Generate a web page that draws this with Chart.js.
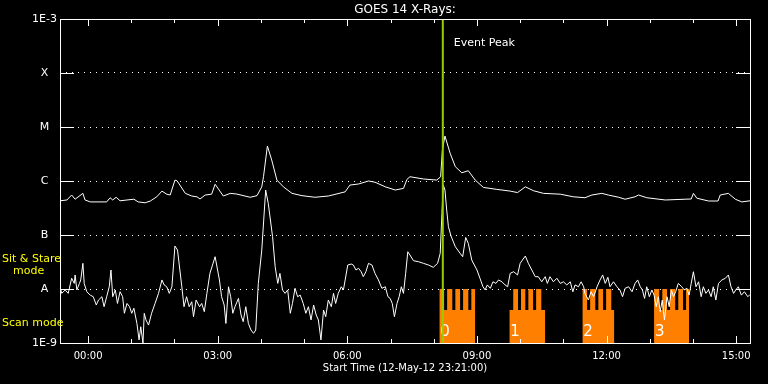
<!DOCTYPE html>
<html><head><meta charset="utf-8">
<script src="https://cdn.jsdelivr.net/npm/chart.js@4/dist/chart.umd.min.js"></script>
<style>html,body{margin:0;padding:0;background:#000;overflow:hidden}canvas{display:block}</style>
</head><body>
<canvas id="c" width="768" height="384"></canvas>
<script>
// ---- text ----
const chartTitle = 'GOES 14 X-Rays:';
const xAxisTitle = 'Start Time (12-May-12 23:21:00)';
const eventLabel = 'Event Peak';
const modeLabels = ['Sit & Stare', 'mode', 'Scan mode'];

// ---- axes (hours relative to 13-May 00:00 UT) ----
const xMin = -0.65, xMax = 15.32;
const xTickHours = [0, 3, 6, 9, 12, 15];
const xTickLabels = ['00:00', '03:00', '06:00', '09:00', '12:00', '15:00'];
const yTickValues = [1e-9, 1e-8, 1e-7, 1e-6, 1e-5, 1e-4, 1e-3];
const yTickLabels = ['1E-9', 'A', 'B', 'C', 'M', 'X', '1E-3'];

// ---- long channel (upper curve) ----
const upperTimes = [
 -0.65,-0.49,-0.38,-0.30,-0.12,-0.07,0.05,0.43,0.51,0.57,
 0.65,0.74,0.90,1.06,1.16,1.32,1.44,1.59,1.71,1.82,
 1.90,2.01,2.06,2.25,2.40,2.52,2.59,2.71,2.86,2.94,
 3.13,3.29,3.44,3.75,3.91,4.02,4.06,4.15,4.25,4.37,
 4.52,4.72,4.95,5.25,5.56,5.95,6.06,6.26,6.49,6.64,
 6.88,7.11,7.30,7.38,7.45,7.76,8.07,8.16,8.20,8.26,
 8.38,8.50,8.65,8.80,8.96,9.15,9.46,9.77,9.94,10.12,
 10.31,10.54,10.93,11.23,11.50,11.66,11.89,12.04,12.28,12.43,
 12.66,12.74,12.93,13.36,13.82,13.96,14.01,14.09,14.36,14.58,
 14.63,14.82,14.98,15.13,15.32];
const upperFlux = [
 4.3e-7,4.45e-7,5.5e-7,4.6e-7,5.9e-7,4.45e-7,4.1e-7,4.1e-7,4.9e-7,4.45e-7,
 5.0e-7,4.3e-7,4.45e-7,4.6e-7,4.1e-7,3.95e-7,4.26e-7,5.1e-7,6.5e-7,5.7e-7,
 5.5e-7,1.04e-6,1.01e-6,5.9e-7,5.27e-7,5.1e-7,4.64e-7,5.5e-7,5.7e-7,8.7e-7,
 5.27e-7,5.9e-7,5.74e-7,5.0e-7,5.35e-7,7.8e-7,1.2e-6,4.45e-6,2.45e-6,1.04e-6,
 7.8e-7,5.9e-7,5.35e-7,5.0e-7,5.27e-7,6.3e-7,8.4e-7,8.8e-7,1.0e-6,9.5e-7,
 7.8e-7,6.8e-7,7.3e-7,1.07e-6,1.2e-6,1.09e-6,1.04e-6,1.2e-6,3.75e-6,6.8e-6,
 3.26e-6,1.84e-6,1.42e-6,1.55e-6,1.04e-6,7.6e-7,7.0e-7,6.5e-7,6.1e-7,7.8e-7,
 6.6e-7,5.9e-7,5.7e-7,5.1e-7,4.9e-7,5.5e-7,5.9e-7,5.5e-7,5.0e-7,4.6e-7,
 5.1e-7,5.5e-7,4.9e-7,4.45e-7,4.6e-7,4.64e-7,5.9e-7,4.8e-7,4.26e-7,4.26e-7,
 5.5e-7,5.9e-7,4.6e-7,4.1e-7,4.3e-7];

// ---- short channel (lower curve) ----
const lowerTimes = [
 -0.65,-0.61,-0.53,-0.46,-0.38,-0.32,-0.30,-0.26,-0.20,-0.17,
 -0.12,-0.09,-0.03,0.05,0.12,0.19,0.24,0.32,0.37,0.43,
 0.49,0.53,0.57,0.63,0.68,0.74,0.80,0.84,0.90,0.96,
 1.01,1.06,1.13,1.18,1.22,1.27,1.30,1.34,1.40,1.47,
 1.55,1.63,1.71,1.76,1.82,1.88,1.94,2.01,2.07,2.17,
 2.22,2.28,2.34,2.40,2.44,2.50,2.58,2.63,2.69,2.75,
 2.82,2.94,3.04,3.09,3.15,3.19,3.25,3.30,3.35,3.40,
 3.48,3.54,3.59,3.65,3.71,3.77,3.83,3.88,3.94,4.02,
 4.11,4.17,4.27,4.33,4.39,4.44,4.50,4.56,4.62,4.68,
 4.73,4.79,4.85,4.91,4.98,5.04,5.10,5.16,5.22,5.28,
 5.33,5.39,5.45,5.50,5.56,5.63,5.68,5.73,5.79,5.86,
 5.91,5.95,6.01,6.09,6.14,6.20,6.26,6.32,6.37,6.43,
 6.49,6.57,6.64,6.72,6.80,6.88,6.94,6.99,7.04,7.09,
 7.15,7.20,7.25,7.30,7.35,7.40,7.45,7.53,7.65,7.76,
 7.88,7.99,8.09,8.15,8.19,8.22,8.26,8.30,8.34,8.40,
 8.50,8.61,8.67,8.74,8.80,8.88,9.00,9.07,9.14,9.19,
 9.24,9.31,9.37,9.44,9.50,9.58,9.65,9.71,9.77,9.85,
 9.94,10.00,10.12,10.19,10.27,10.35,10.42,10.50,10.58,10.63,
 10.69,10.77,10.85,10.93,11.00,11.08,11.16,11.22,11.27,11.35,
 11.41,11.47,11.50,11.58,11.64,11.70,11.78,11.85,11.91,11.97,
 12.03,12.08,12.16,12.24,12.31,12.37,12.43,12.51,12.59,12.66,
 12.72,12.78,12.83,12.88,12.93,12.99,13.05,13.10,13.15,13.20,
 13.24,13.29,13.34,13.40,13.45,13.50,13.55,13.60,13.66,13.74,
 13.80,13.86,13.91,13.96,14.01,14.07,14.13,14.19,14.24,14.30,
 14.36,14.42,14.47,14.53,14.59,14.67,14.75,14.82,14.88,14.94,
 14.99,15.05,15.12,15.19,15.27,15.32];
const lowerFlux = [
 1.10e-8,8.3e-9,9.6e-9,8.3e-9,1.58e-8,1.27e-8,1.82e-8,9.6e-9,1.27e-8,1.47e-8,
 2.99e-8,1.27e-8,8.9e-9,7.7e-9,7.2e-9,5.05e-9,6.25e-9,7.2e-9,4.7e-9,7.2e-9,
 1.10e-8,2.25e-8,7.2e-9,9.6e-9,5.4e-9,8.9e-9,7.2e-9,3.55e-9,5.4e-9,4.7e-9,
 3.55e-9,4.4e-9,2.3e-9,1.14e-9,2.0e-9,1.0e-9,3.55e-9,2.67e-9,2.15e-9,3.55e-9,
 5.4e-9,8.3e-9,1.47e-8,1.19e-8,1.10e-8,8.3e-9,1.10e-8,6.25e-8,5.27e-8,1.10e-8,
 4.7e-9,7.2e-9,4.7e-9,5.8e-9,3.07e-9,6.25e-9,4.7e-9,5.4e-9,3.8e-9,8.3e-9,
 1.95e-8,3.96e-8,1.47e-8,7.2e-9,5.05e-9,2.3e-9,1.10e-8,7.2e-9,3.55e-9,4.7e-9,
 6.7e-9,3.3e-9,2.48e-9,4.7e-9,2.3e-9,1.74e-9,1.51e-9,1.74e-9,1.27e-8,5.27e-8,
 6.8e-7,3.86e-7,9.3e-8,2.59e-8,1.27e-8,1.95e-8,9.6e-9,8.3e-9,9.6e-9,3.55e-9,
 5.4e-9,1.03e-8,7.2e-9,7.7e-9,5.4e-9,3.55e-9,4.7e-9,2.67e-9,5.05e-9,3.3e-9,
 2.67e-9,1.14e-9,4.08e-9,3.07e-9,6.25e-9,4.7e-9,8.3e-9,5.4e-9,8.3e-9,1.10e-8,
 9.6e-9,1.47e-8,2.78e-8,2.9e-8,2.78e-8,2.25e-8,2.42e-8,2.09e-8,1.69e-8,2.09e-8,
 2.99e-8,2.78e-8,1.95e-8,1.47e-8,1.03e-8,1.10e-8,7.2e-9,6.7e-9,5.4e-9,3.07e-9,
 5.4e-9,7.2e-9,1.10e-8,8.3e-9,1.95e-8,4.9e-8,4.26e-8,3.34e-8,3.2e-8,2.99e-8,
 2.78e-8,2.52e-8,2.99e-8,4.58e-8,2.52e-7,8.4e-7,6.8e-7,2.9e-7,1.42e-7,9.6e-8,
 6.07e-8,4.58e-8,3.96e-8,9.0e-8,7.0e-8,3.44e-8,2.25e-8,1.58e-8,1.10e-8,9.6e-9,
 1.19e-8,1.03e-8,1.36e-8,1.27e-8,1.47e-8,1.36e-8,1.19e-8,1.10e-8,1.95e-8,2.09e-8,
 1.82e-8,2.99e-8,4.08e-8,2.99e-8,2.25e-8,1.69e-8,1.69e-8,1.36e-8,1.69e-8,1.27e-8,
 1.69e-8,1.36e-8,1.58e-8,1.27e-8,1.36e-8,1.19e-8,1.36e-8,8.9e-9,1.19e-8,1.10e-8,
 1.36e-8,1.10e-8,8.3e-9,6.25e-9,8.9e-9,7.2e-9,1.10e-8,1.47e-8,1.82e-8,1.27e-8,
 1.65e-8,1.10e-8,1.36e-8,1.10e-8,9.6e-9,7.2e-9,1.03e-8,1.10e-8,8.9e-9,1.27e-8,
 1.47e-8,1.10e-8,9.6e-9,6.7e-9,1.10e-8,7.2e-9,9.6e-9,7.7e-9,4.7e-9,7.2e-9,
 3.8e-9,6.25e-9,2.67e-9,7.2e-9,4.7e-9,9.6e-9,7.2e-9,8.9e-9,1.27e-8,1.10e-8,
 9.6e-9,1.03e-8,7.7e-9,1.27e-8,2.09e-8,1.10e-8,1.36e-8,7.2e-9,1.10e-8,8.3e-9,
 9.6e-9,7.2e-9,1.10e-8,6.25e-9,1.27e-8,1.47e-8,1.58e-8,1.82e-8,1.10e-8,8.3e-9,
 9.6e-9,1.10e-8,7.7e-9,8.9e-9,7.2e-9,7.9e-9];

// ---- event peak & instrument mode timeline ----
const eventPeak = 8.21;
const stareLevel = 1e-8;
const scanLevel = 4.1e-9;
const blockLabels = ['0', '1', '2', '3'];
const scanBlocks = [[8.13, 8.96], [9.75, 10.58], [11.44, 12.18], [13.10, 13.91]];
const stareWindows = [
  [[8.13, 8.24], [8.31, 8.43], [8.50, 8.61], [8.68, 8.80], [8.87, 8.96]],
  [[9.84, 9.95], [10.02, 10.12], [10.19, 10.30], [10.37, 10.49]],
  [[11.44, 11.55], [11.62, 11.74], [11.81, 11.92], [11.99, 12.11]],
  [[13.10, 13.22], [13.29, 13.40], [13.47, 13.59], [13.66, 13.77], [13.84, 13.91]]
];

// ---- build datasets ----
const FONT = 'DejaVu Sans';
const ORANGE = '#ff8000';
const GREEN = '#99cc00';

function blockPoints(b) {
  const [s, e] = scanBlocks[b];
  const pts = [{x: s, y: scanLevel}];
  stareWindows[b].forEach(([a, z]) => { pts.push({x: a, y: stareLevel}); pts.push({x: z, y: scanLevel}); });
  pts.push({x: e, y: scanLevel});
  return pts;
}

const datasets = [];
scanBlocks.forEach((blk, b) => {
  datasets.push({
    label: 'mode ' + blockLabels[b], data: blockPoints(b), stepped: 'before',
    borderColor: 'rgba(0,0,0,0)', borderWidth: 0, backgroundColor: ORANGE,
    fill: 'start', pointRadius: 0, order: 3, isBlock: true, blockIndex: b
  });
});
datasets.push({
  label: 'short', data: lowerTimes.map((t, i) => ({x: t, y: lowerFlux[i]})),
  borderColor: '#fff', borderWidth: 1, pointRadius: 0, fill: false, tension: 0, order: 1
});
datasets.push({
  label: 'long', data: upperTimes.map((t, i) => ({x: t, y: upperFlux[i]})),
  borderColor: '#fff', borderWidth: 1, pointRadius: 0, fill: false, tension: 0, order: 1
});
datasets.push({
  label: 'event', data: [{x: eventPeak, y: 1e-9}, {x: eventPeak, y: 1e-3}],
  borderColor: GREEN, borderWidth: 2, pointRadius: 0, fill: false, order: 0
});

const decor = {
  id: 'decor',
  beforeDraw(chart) {
    const c = chart.ctx; c.save(); c.fillStyle = '#000'; c.fillRect(0, 0, chart.width, chart.height); c.restore();
  },
  afterDatasetDraw(chart, args) {
    const ds = chart.data.datasets[args.index];
    if (!ds.isBlock) return;
    const c = chart.ctx, xs = chart.scales.x, ys = chart.scales.y;
    c.save();
    c.fillStyle = '#fff'; c.font = '15px "' + FONT + '"';
    c.textAlign = 'left'; c.textBaseline = 'middle';
    const px = xs.getPixelForValue(scanBlocks[ds.blockIndex][0]) + 1;
    const py = (ys.getPixelForValue(scanLevel) + ys.bottom) / 2;
    c.fillText(blockLabels[ds.blockIndex], px, py + 6);
    c.restore();
  },
  afterDraw(chart) {
    const c = chart.ctx, a = chart.chartArea, xs = chart.scales.x, ys = chart.scales.y;
    c.save();
    c.strokeStyle = '#fff'; c.lineWidth = 1;
    // frame
    c.strokeRect(Math.round(a.left) + 0.5, Math.round(a.top) + 0.5, Math.round(a.right - a.left), Math.round(a.bottom - a.top));
    // inward x ticks (hourly, longer every 3 h)
    c.beginPath();
    for (let h = Math.ceil(xMin); h <= Math.floor(xMax); h++) {
      const px = Math.round(xs.getPixelForValue(h)) + 0.5;
      const len = (h % 3 === 0) ? 7 : 4;
      c.moveTo(px, a.top); c.lineTo(px, a.top + len);
      c.moveTo(px, a.bottom); c.lineTo(px, a.bottom - len);
    }
    // inward y ticks, both sides
    yTickValues.slice(1, -1).forEach(v => {
      const py = Math.round(ys.getPixelForValue(v)) + 0.5;
      c.moveTo(a.left, py); c.lineTo(a.left + 14, py);
      c.moveTo(a.right, py); c.lineTo(a.right - 14, py);
    });
    c.stroke();
    // title
    c.fillStyle = '#fff'; c.textAlign = 'center'; c.textBaseline = 'middle';
    c.font = '12px "' + FONT + '"';
    c.fillText(chartTitle, (a.left + a.right) / 2, 10);
    // event label
    c.textAlign = 'left'; c.font = '11px "' + FONT + '"';
    c.fillText(eventLabel, xs.getPixelForValue(eventPeak) + 11, a.top + 24);
    // mode labels
    c.fillStyle = '#ffff00';
    c.fillText(modeLabels[0], 2, 259);
    c.fillText(modeLabels[1], 13, 271);
    c.fillText(modeLabels[2], 2, 323);
    c.restore();
  }
};

new Chart(document.getElementById('c'), {
  type: 'line',
  data: { datasets },
  options: {
    responsive: false, animation: false, devicePixelRatio: 1,
    layout: { padding: { left: 0, right: 18, top: 19, bottom: 0 } },
    plugins: { legend: { display: false }, tooltip: { enabled: false }, title: { display: false } },
    scales: {
      x: {
        type: 'linear', min: xMin, max: xMax,
        afterBuildTicks: s => { s.ticks = xTickHours.map(v => ({value: v})); },
        afterFit: s => { s.height = 41; },
        grid: { display: false, drawTicks: false },
        border: { display: false },
        ticks: { color: '#fff', font: { family: FONT, size: 10 }, padding: 7, maxRotation: 0, autoSkip: false,
                 callback: (v, i) => xTickLabels[i] },
        title: { display: true, text: xAxisTitle, color: '#fff', font: { family: FONT, size: 10 }, padding: { top: 0, bottom: 10 } }
      },
      y: {
        type: 'logarithmic', min: 1e-9, max: 1e-3,
        afterBuildTicks: s => { s.ticks = yTickValues.map(v => ({value: v})); },
        afterFit: s => { s.width = 60; },
        grid: { color: '#fff', lineWidth: 1, drawTicks: false },
        border: { display: false, dash: [1, 5] },
        ticks: { color: '#fff', font: { family: FONT, size: 11 }, crossAlign: 'center', padding: 3, autoSkip: false,
                 callback: (v, i) => yTickLabels[i] }
      }
    }
  },
  plugins: [decor]
});
</script>
</body></html>
